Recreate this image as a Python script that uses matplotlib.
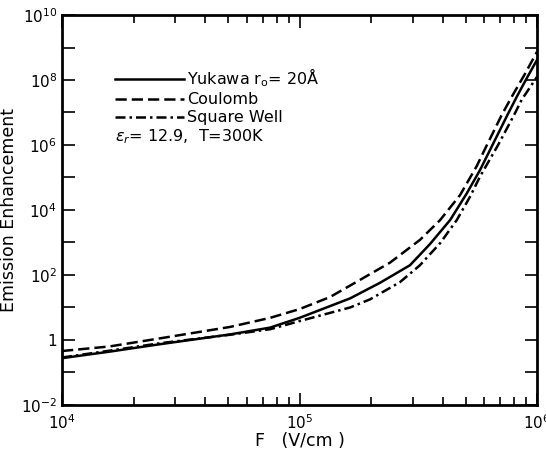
import numpy as np
import matplotlib
matplotlib.use("Agg")
import matplotlib.pyplot as plt
from matplotlib.ticker import LogLocator, FixedLocator, NullFormatter
from matplotlib.lines import Line2D

plt.rcParams['font.family'] = ['DejaVu Sans']
plt.rcParams['mathtext.fontset'] = 'dejavusans'

# curves: log10 F (V/cm) and log10 enhancement
coulomb_logF = [4.0, 4.2, 4.413, 4.707, 4.876, 5.0, 5.128, 5.255, 5.381, 5.507, 5.592, 5.676, 5.746, 5.781, 5.851, 5.894, 5.95, 6.0]
coulomb_logE = [-0.34, -0.20, 0.05, 0.40, 0.68, 0.95, 1.32, 1.85, 2.38, 3.08, 3.69, 4.46, 5.35, 5.88, 6.92, 7.49, 8.20, 8.87]

yukawa_logF = [4.0, 4.2, 4.413, 4.707, 4.876, 5.0, 5.213, 5.339, 5.465, 5.549, 5.634, 5.704, 5.76, 5.809, 5.875, 5.915, 5.96, 6.0]
yukawa_logE = [-0.56, -0.36, -0.13, 0.17, 0.38, 0.68, 1.28, 1.76, 2.30, 2.95, 3.69, 4.51, 5.23, 5.95, 6.92, 7.49, 8.10, 8.62]

square_logF = [4.0, 4.2, 4.413, 4.707, 4.876, 5.0, 5.213, 5.297, 5.423, 5.507, 5.592, 5.662, 5.718, 5.76, 5.836, 5.903, 5.936, 6.0]
square_logE = [-0.54, -0.33, -0.10, 0.16, 0.33, 0.58, 1.00, 1.25, 1.78, 2.30, 2.98, 3.69, 4.41, 5.03, 6.00, 6.92, 7.40, 8.10]

yticks = [1e-2, 1, 1e2, 1e4, 1e6, 1e8, 1e10]
ylabels = ['$10^{-2}$', '1', '$10^{2}$', '$10^{4}$', '$10^{6}$', '$10^{8}$', '$10^{10}$']
xticks = [1e4, 1e5, 1e6]
xlabels = ['$10^{4}$', '$10^{5}$', '$10^{6}$']

solid = dict(color='k', lw=1.8)
dashed = dict(color='k', lw=1.8, dashes=(4.5, 2))
dashdot = dict(color='k', lw=1.8, dashes=(4, 1.6, 1, 1.6))

fig = plt.figure(figsize=(5.46, 4.55), dpi=100)
ax = fig.add_axes([0.1136, 0.110, 0.870, 0.857])

ax.plot(10**np.array(yukawa_logF), 10**np.array(yukawa_logE), **solid)
ax.plot(10**np.array(coulomb_logF), 10**np.array(coulomb_logE), **dashed)
ax.plot(10**np.array(square_logF), 10**np.array(square_logE), **dashdot)

ax.set_xscale('log')
ax.set_yscale('log')
ax.set_xlim(1e4, 1e6)
ax.set_ylim(1e-2, 1e10)

ax.yaxis.set_major_locator(FixedLocator(yticks))
ax.set_yticklabels(ylabels)
ax.yaxis.set_minor_locator(FixedLocator([1e-1, 1e1, 1e3, 1e5, 1e7, 1e9]))
ax.yaxis.set_minor_formatter(NullFormatter())
ax.xaxis.set_major_locator(FixedLocator(xticks))
ax.set_xticklabels(xlabels)
ax.xaxis.set_minor_locator(LogLocator(base=10, subs=np.arange(2, 10), numticks=20))
ax.xaxis.set_minor_formatter(NullFormatter())

ax.tick_params(which='both', direction='in', top=True, right=True, labelsize=11, width=1.2)
ax.tick_params(which='major', length=9)
ax.tick_params(axis='y', which='minor', length=9)
ax.tick_params(axis='x', which='minor', length=6)
ax.tick_params(axis='x', which='major', pad=6)
for s in ax.spines.values():
    s.set_linewidth(2)

ax.set_xlabel('F   (V/cm )', fontsize=12.5)
ax.set_ylabel('Emission Enhancement', fontsize=12.5)
ax.xaxis.set_label_coords(0.5, -0.07)
ax.yaxis.set_label_coords(-0.092, 0.5)

# legend
handles = [Line2D([], [], **solid), Line2D([], [], **dashed), Line2D([], [], **dashdot)]
names = [r'Yukawa r$_\mathrm{o}$= 20$\mathrm{\AA}$', 'Coulomb', 'Square Well']
ax.legend(handles, names, loc='upper left', bbox_to_anchor=(0.098, 0.885), frameon=False,
          fontsize=11.5, handlelength=4.3, handletextpad=0.2, labelspacing=0.2, borderaxespad=0)
ax.text(0.112, 0.688, r'$\epsilon_r$= 12.9,  T=300K', transform=ax.transAxes, fontsize=11.5,
        va='center', ha='left')

fig.savefig('out.png', dpi=100)
